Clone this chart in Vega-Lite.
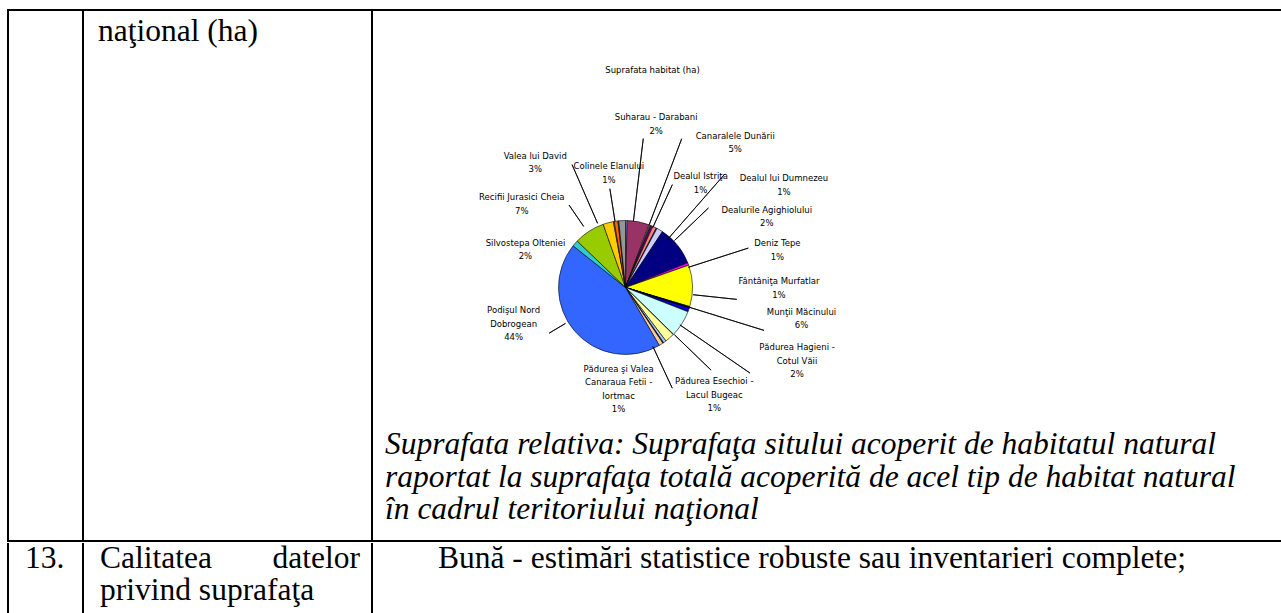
{
  "$schema": "https://vega.github.io/schema/vega-lite/v6.json",
  "padding": {"left": 7, "top": 9, "right": 0, "bottom": 0},
  "spacing": 0,
  "config": {"view": {"stroke": null}, "concat": {"spacing": 0},
    "text": {"font": "DejaVu Sans", "fontSize": 8.5, "lineBreak": "\n", "lineHeight": 13.5, "align": "center", "baseline": "middle", "color": "#000"}},
  "datasets": {
    "slices": [
      {"ord": 1, "name": "", "share": 0.4, "label": ""},
      {"ord": 2, "name": "Canaralele Dunării", "share": 5.3, "label": "Canaralele Dunării\n5%"},
      {"ord": 3, "name": "", "share": 0.2, "label": ""},
      {"ord": 4, "name": "", "share": 0.2, "label": ""},
      {"ord": 5, "name": "Dealul Istriţa", "share": 0.6, "label": "Dealul Istriţa\n1%"},
      {"ord": 6, "name": "Dealul lui Dumnezeu", "share": 0.9, "label": "Dealul lui Dumnezeu\n1%"},
      {"ord": 7, "name": "", "share": 0.2, "label": ""},
      {"ord": 8, "name": "Dealurile Agighiolului", "share": 1.5, "label": "Dealurile Agighiolului\n2%"},
      {"ord": 9, "name": "", "share": 9.7, "label": ""},
      {"ord": 10, "name": "Deniz Tepe", "share": 0.6, "label": "Deniz Tepe\n1%"},
      {"ord": 11, "name": "", "share": 10.0, "label": ""},
      {"ord": 12, "name": "", "share": 0.1, "label": ""},
      {"ord": 13, "name": "", "share": 0.1, "label": ""},
      {"ord": 14, "name": "", "share": 0.1, "label": ""},
      {"ord": 15, "name": "", "share": 0.1, "label": ""},
      {"ord": 16, "name": "Fântâniţa Murfatlar", "share": 0.8, "label": "Fântâniţa Murfatlar\n1%"},
      {"ord": 17, "name": "", "share": 0.1, "label": ""},
      {"ord": 18, "name": "Munţii Măcinului", "share": 6.4, "label": "Munţii Măcinului\n6%"},
      {"ord": 19, "name": "", "share": 0.1, "label": ""},
      {"ord": 20, "name": "Pădurea Hagieni - Cotul Văii", "share": 2.3, "label": "Pădurea Hagieni -\nCotul Văii\n2%"},
      {"ord": 21, "name": "Pădurea Esechioi - Lacul Bugeac", "share": 0.7, "label": "Pădurea Esechioi -\nLacul Bugeac\n1%"},
      {"ord": 22, "name": "", "share": 0.1, "label": ""},
      {"ord": 23, "name": "", "share": 0.1, "label": ""},
      {"ord": 24, "name": "Pădurea şi Valea Canaraua Fetii - Iortmac", "share": 1.0, "label": "Pădurea şi Valea\nCanaraua Fetii -\nIortmac\n1%"},
      {"ord": 25, "name": "Podişul Nord Dobrogean", "share": 44.1, "label": "Podişul Nord\nDobrogean\n44%"},
      {"ord": 26, "name": "Silvostepa Olteniei", "share": 1.5, "label": "Silvostepa Olteniei\n2%"},
      {"ord": 27, "name": "Recifii Jurasici Cheia", "share": 7.4, "label": "Recifii Jurasici Cheia\n7%"},
      {"ord": 28, "name": "Valea lui David", "share": 2.5, "label": "Valea lui David\n3%"},
      {"ord": 29, "name": "", "share": 0.2, "label": ""},
      {"ord": 30, "name": "Colinele Elanului", "share": 0.9, "label": "Colinele Elanului\n1%"},
      {"ord": 31, "name": "", "share": 0.2, "label": ""},
      {"ord": 32, "name": "Suharau - Darabani", "share": 1.6, "label": "Suharau - Darabani\n2%"}
    ]
  },
  "vconcat": [
    {"width": 1274, "height": 2, "view": {"fill": "#000", "stroke": null}, "data": {"values": []}, "mark": "text", "encoding": {"text": {"value": ""}}},
    {
      "hconcat": [
        {"width": 2, "height": 529, "view": {"fill": "#000", "stroke": null}, "data": {"values": []}, "mark": "text", "encoding": {"text": {"value": ""}}},
        {"width": 73, "height": 529, "data": {"values": []}, "mark": "text", "encoding": {"text": {"value": ""}}},
        {"width": 2, "height": 529, "view": {"fill": "#000", "stroke": null}, "data": {"values": []}, "mark": "text", "encoding": {"text": {"value": ""}}},
        {"width": 287, "height": 529, "data": {"values": [{"t": "naţional (ha)"}]}, "mark": {"type": "text", "font": "Liberation Serif", "fontSize": 31.5, "align": "left", "baseline": "alphabetic", "dx": -129.5, "dy": -235}, "encoding": {"text": {"field": "t"}}},
        {"width": 2, "height": 529, "view": {"fill": "#000", "stroke": null}, "data": {"values": []}, "mark": "text", "encoding": {"text": {"value": ""}}},
        {
          "vconcat": [
            {"width": 505, "height": 24, "data": {"values": []}, "mark": "text", "encoding": {"text": {"value": ""}}},
            {
              "width": 505, "height": 505,
              "data": {"name": "slices"},
              "transform": [{"stack": "share", "groupby": [], "sort": [{"field": "ord", "order": "ascending"}], "as": ["s0", "s1"]}],
              "layer": [
                {"mark": {"type": "arc", "outerRadius": 67, "stroke": "#000", "strokeWidth": 0.6},
                 "encoding": {"theta": {"field": "s0", "type": "quantitative", "scale": {"domain": [0, 100]}}, "theta2": {"field": "s1"},
                   "color": {"field": "ord", "type": "nominal", "legend": null, "scale": {"domain": [1,2,3,4,5,6,7,8,9,10,11,12,13,14,15,16,17,18,19,20,21,22,23,24,25,26,27,28,29,30,31,32],
                     "range": ["#9999FF","#993366","#FFFFCC","#CCFFFF","#660066","#FF8080","#0066CC","#CCCCFF","#000080","#FF00FF","#FFFF00","#00FFFF","#800080","#800000","#008080","#0000FF","#00CCFF","#CCFFFF","#CCFFCC","#FFFF99","#99CCFF","#FF99CC","#CC99FF","#FFCC99","#3366FF","#33CCCC","#99CC00","#FFCC00","#FF9900","#FF6600","#666699","#969696"]}}}},
                {"transform": [{"filter": "datum.ord === 32"}], "encoding": {"theta": {"field": "s0", "type": "quantitative"}},
                 "layer": [{"mark": {"type": "text", "radius": 173, "dx": 48, "dy": 2}, "encoding": {"text": {"field": "label"}}},
                           {"mark": {"type": "arc", "innerRadius": 67, "outerRadius": 150, "thetaOffset": 0.2192, "theta2Offset": 0.2192, "filled": false, "stroke": "#000", "strokeWidth": 0.8}, "encoding": {"theta2": {"field": "s0"}}}]},
                {"transform": [{"filter": "datum.ord === 2"}], "encoding": {"theta": {"field": "s0", "type": "quantitative"}},
                 "layer": [{"mark": {"type": "text", "radius": 187, "dx": 105, "dy": 35}, "encoding": {"text": {"field": "label"}}},
                           {"mark": {"type": "arc", "innerRadius": 67, "outerRadius": 159, "thetaOffset": 0.3361, "theta2Offset": 0.3361, "filled": false, "stroke": "#000", "strokeWidth": 0.8}, "encoding": {"theta2": {"field": "s0"}}}]},
                {"transform": [{"filter": "datum.ord === 28"}], "encoding": {"theta": {"field": "s0", "type": "quantitative"}},
                 "layer": [{"mark": {"type": "text", "radius": 160, "dx": -37, "dy": 19}, "encoding": {"text": {"field": "label"}}},
                           {"mark": {"type": "arc", "innerRadius": 70, "outerRadius": 134, "thetaOffset": -0.0709, "theta2Offset": -0.0709, "filled": false, "stroke": "#000", "strokeWidth": 0.8}, "encoding": {"theta2": {"field": "s0"}}}]},
                {"transform": [{"filter": "datum.ord === 30"}], "encoding": {"theta": {"field": "s0", "type": "quantitative"}},
                 "layer": [{"mark": {"type": "text", "radius": 122, "dx": 4, "dy": -1}, "encoding": {"text": {"field": "label"}}},
                           {"mark": {"type": "arc", "innerRadius": 67, "outerRadius": 100, "thetaOffset": 0.0126, "theta2Offset": 0.0126, "filled": false, "stroke": "#000", "strokeWidth": 0.8}, "encoding": {"theta2": {"field": "s0"}}}]},
                {"transform": [{"filter": "datum.ord === 5"}], "encoding": {"theta": {"field": "s0", "type": "quantitative"}},
                 "layer": [{"mark": {"type": "text", "radius": 134, "dx": 25, "dy": 13}, "encoding": {"text": {"field": "label"}}},
                           {"mark": {"type": "arc", "innerRadius": 66, "outerRadius": 113, "thetaOffset": 0.0443, "theta2Offset": 0.0443, "filled": false, "stroke": "#000", "strokeWidth": 0.8}, "encoding": {"theta2": {"field": "s0"}}}]},
                {"transform": [{"filter": "datum.ord === 6"}], "encoding": {"theta": {"field": "s0", "type": "quantitative"}},
                 "layer": [{"mark": {"type": "text", "radius": 192, "dx": 80, "dy": 66}, "encoding": {"text": {"field": "label"}}},
                           {"mark": {"type": "arc", "innerRadius": 64, "outerRadius": 151, "thetaOffset": 0.2981, "theta2Offset": 0.2981, "filled": false, "stroke": "#000", "strokeWidth": 0.8}, "encoding": {"theta2": {"field": "s0"}}}]},
                {"transform": [{"filter": "datum.ord === 27"}], "encoding": {"theta": {"field": "s0", "type": "quantitative"}},
                 "layer": [{"mark": {"type": "text", "radius": 137, "dx": -5, "dy": 5}, "encoding": {"text": {"field": "label"}}},
                           {"mark": {"type": "arc", "innerRadius": 74, "outerRadius": 100, "thetaOffset": 0.2039, "theta2Offset": 0.2039, "filled": false, "stroke": "#000", "strokeWidth": 0.8}, "encoding": {"theta2": {"field": "s0"}}}]},
                {"transform": [{"filter": "datum.ord === 8"}], "encoding": {"theta": {"field": "s0", "type": "quantitative"}},
                 "layer": [{"mark": {"type": "text", "radius": 162, "dx": 65, "dy": 65}, "encoding": {"text": {"field": "label"}}},
                           {"mark": {"type": "arc", "innerRadius": 68, "outerRadius": 115, "thetaOffset": 0.3163, "theta2Offset": 0.3163, "filled": false, "stroke": "#000", "strokeWidth": 0.8}, "encoding": {"theta2": {"field": "s0"}}}]},
                {"transform": [{"filter": "datum.ord === 26"}], "encoding": {"theta": {"field": "s0", "type": "quantitative"}},
                 "layer": [{"mark": {"type": "text", "radius": 110, "dx": -14, "dy": 24}, "encoding": {"text": {"field": "label"}}}]},
                {"transform": [{"filter": "datum.ord === 10"}], "encoding": {"theta": {"field": "s0", "type": "quantitative"}},
                 "layer": [{"mark": {"type": "text", "radius": 158, "dx": 5, "dy": 14}, "encoding": {"text": {"field": "label"}}},
                           {"mark": {"type": "arc", "innerRadius": 66, "outerRadius": 129, "thetaOffset": 0.0663, "theta2Offset": 0.0663, "filled": false, "stroke": "#000", "strokeWidth": 0.8}, "encoding": {"theta2": {"field": "s0"}}}]},
                {"transform": [{"filter": "datum.ord === 16"}], "encoding": {"theta": {"field": "s0", "type": "quantitative"}},
                 "layer": [{"mark": {"type": "text", "radius": 154, "dx": 7, "dy": -54}, "encoding": {"text": {"field": "label"}}},
                           {"mark": {"type": "arc", "innerRadius": 68, "outerRadius": 112, "thetaOffset": -0.2077, "theta2Offset": -0.2077, "filled": false, "stroke": "#000", "strokeWidth": 0.8}, "encoding": {"theta2": {"field": "s0"}}}]},
                {"transform": [{"filter": "datum.ord === 18"}], "encoding": {"theta": {"field": "s0", "type": "quantitative"}},
                 "layer": [{"mark": {"type": "text", "radius": 177, "dx": 11, "dy": -40}, "encoding": {"text": {"field": "label"}}},
                           {"mark": {"type": "arc", "innerRadius": 67, "outerRadius": 145, "thetaOffset": -0.0705, "theta2Offset": -0.0705, "filled": false, "stroke": "#000", "strokeWidth": 0.8}, "encoding": {"theta2": {"field": "s0"}}}]},
                {"transform": [{"filter": "datum.ord === 25"}], "encoding": {"theta": {"field": "s0", "type": "quantitative"}},
                 "layer": [{"mark": {"type": "text", "radius": 30, "dx": -127, "dy": -3}, "encoding": {"text": {"field": "label"}}},
                           {"mark": {"type": "arc", "innerRadius": 70, "outerRadius": 89, "thetaOffset": 1.5593, "theta2Offset": 1.5593, "filled": false, "stroke": "#000", "strokeWidth": 0.8}, "encoding": {"theta2": {"field": "s0"}}}]},
                {"transform": [{"filter": "datum.ord === 20"}], "encoding": {"theta": {"field": "s0", "type": "quantitative"}},
                 "layer": [{"mark": {"type": "text", "radius": 182, "dx": 42, "dy": -68}, "encoding": {"text": {"field": "label"}}},
                           {"mark": {"type": "arc", "innerRadius": 66, "outerRadius": 151, "thetaOffset": -0.177, "theta2Offset": -0.177, "filled": false, "stroke": "#000", "strokeWidth": 0.8}, "encoding": {"theta2": {"field": "s0"}}}]},
                {"transform": [{"filter": "datum.ord === 24"}], "encoding": {"theta": {"field": "s0", "type": "quantitative"}},
                 "layer": [{"mark": {"type": "text", "radius": 81, "dx": -52, "dy": 14}, "encoding": {"text": {"field": "label"}}},
                           {"mark": {"type": "arc", "innerRadius": 65, "outerRadius": 111, "thetaOffset": 0.156, "theta2Offset": 0.156, "filled": false, "stroke": "#000", "strokeWidth": 0.8}, "encoding": {"theta2": {"field": "s0"}}}]},
                {"transform": [{"filter": "datum.ord === 21"}], "encoding": {"theta": {"field": "s0", "type": "quantitative"}},
                 "layer": [{"mark": {"type": "text", "radius": 129, "dx": 11, "dy": -9}, "encoding": {"text": {"field": "label"}}},
                           {"mark": {"type": "arc", "innerRadius": 68, "outerRadius": 119, "thetaOffset": -0.1557, "theta2Offset": -0.1557, "filled": false, "stroke": "#000", "strokeWidth": 0.8}, "encoding": {"theta2": {"field": "s0"}}}]},
                {"data": {"values": [{"t": "Suprafata habitat (ha)"}]}, "mark": {"type": "text", "dx": 27, "dy": -217.5}, "encoding": {"text": {"field": "t"}}},
                {"data": {"values": [{"t": "Suprafata relativa: Suprafaţa sitului acoperit de habitatul natural\nraportat la suprafaţa totală acoperită de acel tip de habitat natural\nîn cadrul teritoriului naţional"}]}, "mark": {"type": "text", "font": "Liberation Serif", "fontStyle": "italic", "fontSize": 31.5, "lineHeight": 32.5, "align": "left", "baseline": "alphabetic", "dx": -240.5, "dy": 166.5}, "encoding": {"text": {"field": "t"}}}
              ]
            }
          ],
          "spacing": 0
        }
      ],
      "spacing": 0
    },
    {"width": 1274, "height": 2, "view": {"fill": "#000", "stroke": null}, "data": {"values": []}, "mark": "text", "encoding": {"text": {"value": ""}}},
    {
      "hconcat": [
        {"width": 2, "height": 71, "view": {"fill": "#000", "stroke": null}, "data": {"values": []}, "mark": "text", "encoding": {"text": {"value": ""}}},
        {"width": 73, "height": 71, "data": {"values": [{"t": "13."}]}, "mark": {"type": "text", "font": "Liberation Serif", "fontSize": 31.5, "align": "left", "baseline": "alphabetic", "dx": -20.5, "dy": -11}, "encoding": {"text": {"field": "t"}}},
        {"width": 2, "height": 71, "view": {"fill": "#000", "stroke": null}, "data": {"values": []}, "mark": "text", "encoding": {"text": {"value": ""}}},
        {"width": 287, "height": 71,
         "layer": [
           {"data": {"values": [{"t": "Calitatea"}]}, "mark": {"type": "text", "font": "Liberation Serif", "fontSize": 31.5, "align": "left", "baseline": "alphabetic", "dx": -127.5, "dy": -11}, "encoding": {"text": {"field": "t"}}},
           {"data": {"values": [{"t": "datelor"}]}, "mark": {"type": "text", "font": "Liberation Serif", "fontSize": 31.5, "align": "right", "baseline": "alphabetic", "dx": 132.5, "dy": -11}, "encoding": {"text": {"field": "t"}}},
           {"data": {"values": [{"t": "privind suprafaţa"}]}, "mark": {"type": "text", "font": "Liberation Serif", "fontSize": 31.5, "align": "left", "baseline": "alphabetic", "dx": -127.5, "dy": 21.5}, "encoding": {"text": {"field": "t"}}}
         ]},
        {"width": 2, "height": 71, "view": {"fill": "#000", "stroke": null}, "data": {"values": []}, "mark": "text", "encoding": {"text": {"value": ""}}},
        {"width": 908, "height": 71, "data": {"values": [{"t": "Bună - estimări statistice robuste sau inventarieri complete;"}]}, "mark": {"type": "text", "font": "Liberation Serif", "fontSize": 31.5, "align": "left", "baseline": "alphabetic", "dx": -389, "dy": -11}, "encoding": {"text": {"field": "t"}}}
      ],
      "spacing": 0
    }
  ]
}
